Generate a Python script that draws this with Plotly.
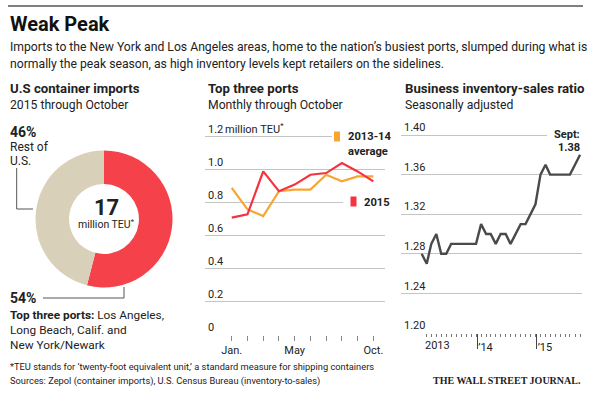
import plotly.graph_objects as go

W, H = 600, 399
FONT = "Roboto, sans-serif"
TXT = "#222222"
GRID = "#c4c4c4"

# ---------------- data ----------------
share_labels = ["Top three ports", "Rest of U.S."]
share_values = [54, 46]
share_colors = ["#f5424a", "#d8d0b8"]
total_teu = "17"

months = list(range(1, 11))
month_tickvals = [1, 5, 10]
month_ticktext = ["Jan.", "May", "Oct."]
avg_2013_14 = [0.89, 0.76, 0.72, 0.87, 0.88, 0.88, 0.97, 0.93, 0.96, 0.96]
ports_2015 = [0.71, 0.73, 0.99, 0.87, 0.91, 0.97, 0.98, 1.04, 0.99, 0.93]
ports_yticks = [0, 0.2, 0.4, 0.6, 0.8, 1.0, 1.2]
ports_yticktext = ["0", "0.2", "0.4", "0.6", "0.8", "1.0", "1.2"]
ports_unit = "million TEU<sup>*</sup>"

ratio_dates = [f"{y}-{m:02d}-01" for y in (2013, 2014, 2015) for m in range(1, 13)][:33]
ratio = [1.28, 1.27, 1.29, 1.30, 1.28, 1.28, 1.29, 1.29, 1.29, 1.29, 1.29, 1.29,
         1.31, 1.30, 1.30, 1.29, 1.30, 1.30, 1.29, 1.30, 1.31, 1.31, 1.32, 1.33,
         1.36, 1.37, 1.36, 1.36, 1.36, 1.36, 1.36, 1.37, 1.38]
ratio_yticks = [1.20, 1.24, 1.28, 1.32, 1.36, 1.40]
first_year_label = ("2013-04-07", "2013")
year_breaks = ["2013-12-10", "2014-12-10"]
year_labels = ["\u201914", "\u201915"]


def fx(px):
    return px / W


def fy(py):
    return 1 - py / H


fig = go.Figure()

# donut
fig.add_trace(go.Pie(
    labels=share_labels, values=share_values, hole=0.51, sort=False,
    direction="clockwise", rotation=0, textinfo="none", hoverinfo="none",
    marker=dict(colors=share_colors, line=dict(width=0)),
    domain=dict(x=[fx(35.5), fx(172.5)], y=[fy(287.5), fy(150.5)]),
    showlegend=False,
))

# ports lines
fig.add_trace(go.Scatter(x=months, y=avg_2013_14, mode="lines",
                         line=dict(color="#f8a532", width=2.2),
                         xaxis="x2", yaxis="y2", showlegend=False))
fig.add_trace(go.Scatter(x=months, y=ports_2015, mode="lines",
                         line=dict(color="#f5333e", width=2.2),
                         xaxis="x2", yaxis="y2", showlegend=False))

# ratio line
fig.add_trace(go.Scatter(x=ratio_dates, y=ratio, mode="lines",
                         line=dict(color="#4a4a4a", width=2.4),
                         xaxis="x3", yaxis="y3", showlegend=False))

tickfont = dict(family=FONT, size=11, color=TXT)

# middle panel: 0 at y=335px, 1.2 at y=136.7px
P2 = (335 - 136.7) / 1.2
Y2TOP = 1.33
# right panel: 1.20 at y=333px, 1.40 at y=135px
P3 = (333 - 135) / 0.2
Y3TOP = 1.42

fig.update_layout(
    width=W, height=H, margin=dict(l=0, r=0, t=0, b=0),
    paper_bgcolor="white", plot_bgcolor="white",
    font=dict(family=FONT, color=TXT),
    xaxis2=dict(domain=[fx(205), fx(385)], range=[-0.70, 10.74], anchor="y2",
                tickmode="array", tickvals=month_tickvals, ticktext=month_ticktext,
                ticks="outside", ticklen=5, tickcolor="#888", tickwidth=1,
                minor=dict(tickmode="array", tickvals=months, ticks="outside",
                           ticklen=5, tickcolor="#888", tickwidth=1, showgrid=False),
                showgrid=False, zeroline=False, showline=False,
                tickfont=tickfont, fixedrange=True),
    yaxis2=dict(domain=[fy(335), fy(335 - Y2TOP * P2)], range=[0, Y2TOP], anchor="x2",
                tickmode="array", tickvals=ports_yticks, ticktext=ports_yticktext,
                ticklabelposition="inside top", ticks="",
                showgrid=True, gridcolor=GRID, gridwidth=1, zeroline=False,
                tickfont=tickfont, fixedrange=True),
    xaxis3=dict(domain=[fx(401), fx(582)], range=["2012-08-27", "2015-09-13"],
                anchor="y3", type="date",
                tickmode="array", tickvals=year_breaks, ticktext=year_labels,
                ticks="outside", ticklen=15, tickcolor="#444", tickwidth=1.3,
                ticklabelshift=8, ticklabelstandoff=-11,
                showgrid=False, zeroline=False, showline=False,
                tickfont=tickfont,
                minor=dict(tickmode="array", tickvals=ratio_dates, ticks="outside",
                           ticklen=3, tickcolor="#777", tickwidth=1, showgrid=False),
                fixedrange=True),
    yaxis3=dict(domain=[fy(333), fy(333 - (Y3TOP - 1.20) * P3)], range=[1.20, Y3TOP],
                anchor="x3",
                tickmode="array", tickvals=ratio_yticks,
                ticktext=[f"{v:.2f}" for v in ratio_yticks],
                ticklabelposition="inside top", ticks="",
                showgrid=True, gridcolor=GRID, gridwidth=1, zeroline=False,
                tickfont=tickfont, fixedrange=True),
)

shapes = []
# top rule
shapes.append(dict(type="line", xref="paper", yref="paper", x0=fx(8), x1=fx(583),
                   y0=fy(6), y1=fy(6), line=dict(color="#555", width=1.5)))


# gridline masks (white boxes where legend text interrupts the grid)
def mask(x0, x1, y0, y1):
    shapes.append(dict(type="rect", xref="paper", yref="paper",
                       x0=fx(x0), x1=fx(x1), y0=fy(y1), y1=fy(y0),
                       fillcolor="white", line=dict(width=0)))


mask(332, 390, 133, 140)
mask(343, 390, 199, 206)
mask(547, 590, 131, 139)
# legend swatches
shapes.append(dict(type="rect", xref="paper", yref="paper", x0=fx(334), x1=fx(340),
                   y0=fy(141.5), y1=fy(131.5), fillcolor="#f8a532", line=dict(width=0)))
shapes.append(dict(type="rect", xref="paper", yref="paper", x0=fx(350.5), x1=fx(356.5),
                   y0=fy(206.5), y1=fy(196.5), fillcolor="#f5333e", line=dict(width=0)))
# donut leader lines
shapes.append(dict(type="path", xref="paper", yref="paper",
                   path=f"M {fx(16.7)},{fy(168)} L {fx(16.7)},{fy(209)} L {fx(33)},{fy(209)}",
                   line=dict(color="#555", width=1)))
shapes.append(dict(type="path", xref="paper", yref="paper",
                   path=f"M {fx(43)},{fy(298)} L {fx(124)},{fy(298)} L {fx(124)},{fy(287)}",
                   line=dict(color="#555", width=1)))
fig.update_layout(shapes=shapes)


def note(text, x, y, size=13, bold=False, anchor="left", family=FONT, color=TXT):
    if bold:
        text = f"<b>{text}</b>"
    fig.add_annotation(text=text, x=fx(x), y=fy(y), xref="paper", yref="paper",
                       xanchor=anchor, yanchor="middle", showarrow=False,
                       font=dict(family=family, size=size, color=color), align=anchor)


note("Weak Peak", 8, 24, size=20, bold=True, color="#111")
note("Imports to the New York and Los Angeles areas, home to the nation\u2019s busiest ports, slumped during what is",
     8, 47, size=12.2)
note("normally the peak season, as high inventory levels kept retailers on the sidelines.", 8, 64, size=12.2)

note("U.S container imports", 8, 89, size=13.2, bold=True)
note("2015 through October", 8, 105, size=12.2)
note("Top three ports", 206, 89, size=13.2, bold=True)
note("Monthly through October", 206, 105, size=12.2)
note("Business inventory-sales ratio", 403, 89, size=13.2, bold=True)
note("Seasonally adjusted", 403, 105, size=12.2)

note(f"{share_values[1]}%", 8, 132, size=14, bold=True)
note("Rest of", 8, 147, size=12)
note("U.S.", 8, 161, size=12)
note(f"{share_values[0]}%", 8, 298, size=14, bold=True)
note("<b>Top three ports:</b> Los Angeles,", 8, 315, size=11.8)
note("Long Beach, Calif. and", 8, 330, size=11.8)
note("New York/Newark", 8, 345, size=11.8)
note(total_teu, 106, 207, size=22, bold=True, anchor="center")
note("million TEU<sup>*</sup>", 106, 224, size=10.5, anchor="center")

# unit label that follows the top tick of the ports axis
fig.add_annotation(text=ports_unit, x=fx(223), y=ports_yticks[-1], xref="paper", yref="y2",
                   xanchor="left", yanchor="bottom", yshift=-1, showarrow=False,
                   font=tickfont)

note("2013-14", 345.5, 136, size=11.2, bold=True)
note("average", 345.5, 151, size=11.2, bold=True)
note("2015", 361.5, 202, size=11.2, bold=True)
note("Sept:", 582, 134, size=11, bold=True, anchor="right")
note(f"{ratio[-1]:.2f}", 582, 147, size=11, bold=True, anchor="right")

# first year label on the ratio axis, positioned through the date axis
fig.add_annotation(text=first_year_label[1], x=first_year_label[0], y=fy(345),
                   xref="x3", yref="paper", xanchor="center", yanchor="middle",
                   showarrow=False, font=tickfont)

note("*TEU stands for \u2018twenty-foot equivalent unit,\u2019 a standard measure for shipping containers",
     8, 366, size=9.3)
note("Sources: Zepol (container imports), U.S. Census Bureau (inventory-to-sales)", 8, 381, size=9.3)
note("THE WALL STREET JOURNAL.", 583, 380, size=10, bold=True, anchor="right",
     family="Liberation Serif, DejaVu Serif, serif")

fig.write_html("out.html", config={"displayModeBar": False},
               post_script="document.body.style.margin='0';document.body.style.overflow='hidden';")
